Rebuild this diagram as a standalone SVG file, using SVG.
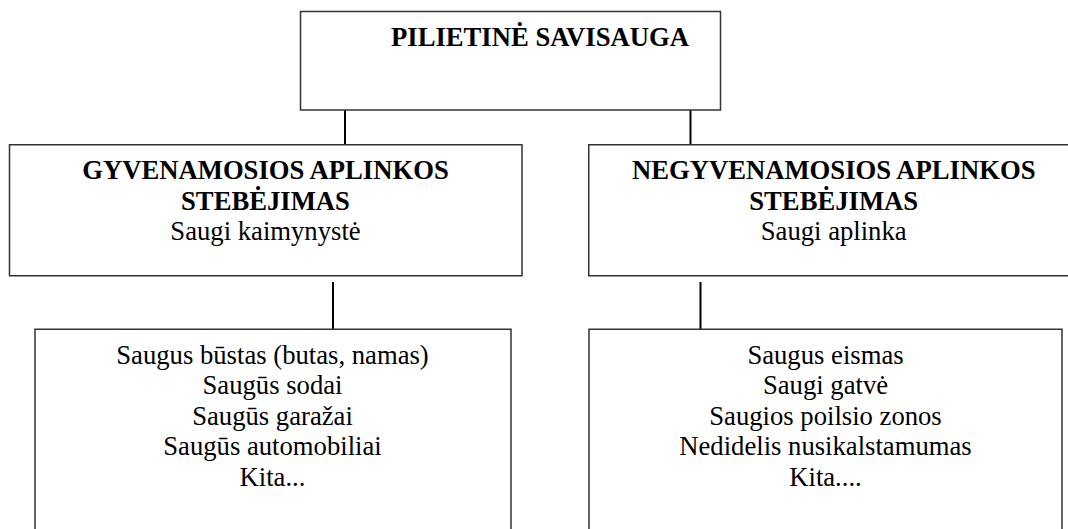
<svg xmlns="http://www.w3.org/2000/svg" width="1068" height="529" viewBox="0 0 1068 529">
<style>
.box{fill:#fff;stroke:#333;stroke-width:1.5}
.t{font-family:"Liberation Serif","Times New Roman",serif;font-size:26.67px;fill:#000;text-anchor:middle}
.b{font-weight:bold}
.c{stroke:#000;stroke-width:2;fill:none}
</style>
<rect x="0" y="0" width="1068" height="529" fill="#fff"/>
<g id="connectors">
<line class="c" x1="345" y1="110" x2="345" y2="145"/>
<line class="c" x1="690.5" y1="110" x2="690.5" y2="145"/>
<line class="c" x1="333" y1="282" x2="333" y2="329"/>
<line class="c" x1="700.5" y1="282" x2="700.5" y2="329"/>
</g>
<g id="node-root">
<rect class="box" x="300.5" y="11.5" width="420" height="98.5"/>
<text class="t b" x="540" y="46">PILIETINĖ SAVISAUGA</text>
</g>
<g id="node-gyv">
<rect class="box" x="9.5" y="144.75" width="512.5" height="131"/>
<text class="t b" x="265.5" y="179">GYVENAMOSIOS APLINKOS</text>
<text class="t b" x="265.5" y="210">STEBĖJIMAS</text>
<text class="t" x="265.5" y="240">Saugi kaimynystė</text>
</g>
<g id="node-negyv">
<rect class="box" x="588.75" y="144.75" width="490" height="131"/>
<text class="t b" x="833.7" y="179">NEGYVENAMOSIOS APLINKOS</text>
<text class="t b" x="833.7" y="210">STEBĖJIMAS</text>
<text class="t" x="833.7" y="240">Saugi aplinka</text>
</g>
<g id="node-gyv-list">
<rect class="box" x="35" y="329.25" width="476" height="210"/>
<text class="t" x="272.5" y="363.5">Saugus būstas (butas, namas)</text>
<text class="t" x="272.5" y="394">Saugūs sodai</text>
<text class="t" x="272.5" y="424.5">Saugūs garažai</text>
<text class="t" x="272.5" y="455">Saugūs automobiliai</text>
<text class="t" x="272.5" y="486">Kita...</text>
</g>
<g id="node-negyv-list">
<rect class="box" x="589" y="329.25" width="473" height="210"/>
<text class="t" x="825.5" y="363.5">Saugus eismas</text>
<text class="t" x="825.5" y="394">Saugi gatvė</text>
<text class="t" x="825.5" y="424.5">Saugios poilsio zonos</text>
<text class="t" x="825.5" y="455">Nedidelis nusikalstamumas</text>
<text class="t" x="825.5" y="486">Kita....</text>
</g>
</svg>
